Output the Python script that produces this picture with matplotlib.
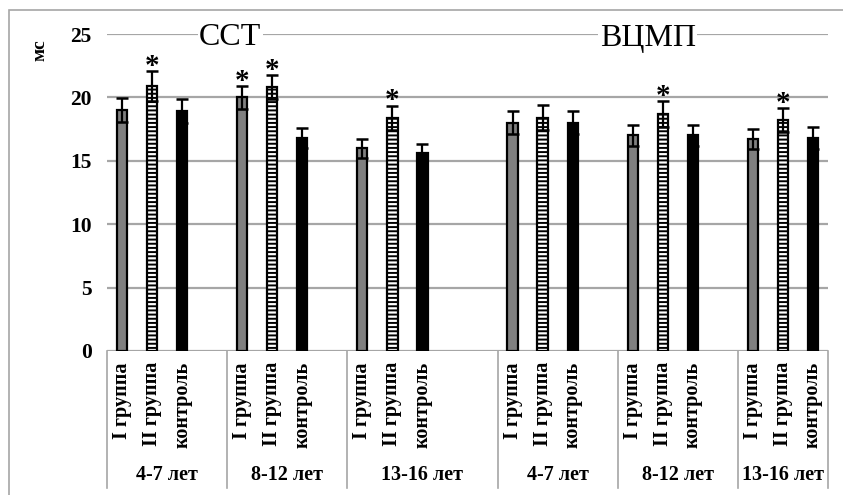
import matplotlib
matplotlib.use("Agg")
import matplotlib.pyplot as plt
import matplotlib.transforms as mtransforms
from matplotlib.patches import Rectangle
import numpy as np

plt.rcParams['font.family'] = ['Liberation Serif', 'DejaVu Serif']
plt.rcParams['hatch.linewidth'] = 1.4

panels = ["ССТ", "ВЦМП"]
ages = ["4-7 лет", "8-12 лет", "13-16 лет"]
groups = ["I группа", "II группа", "контроль"]

# values (мс), per age group
sst_i = [19.0, 20.0, 16.0]
sst_ii = [20.9, 20.8, 18.4]
sst_k = [18.9, 16.8, 15.6]
vcmp_i = [18.0, 17.0, 16.7]
vcmp_ii = [18.4, 18.7, 18.2]
vcmp_k = [18.0, 17.0, 16.8]

sst_i_err = [0.95, 0.9, 0.75]
sst_ii_err = [1.2, 0.95, 0.95]
sst_k_err = [0.95, 0.8, 0.7]
vcmp_i_err = [0.9, 0.85, 0.8]
vcmp_ii_err = [1.0, 1.0, 0.95]
vcmp_k_err = [0.9, 0.85, 0.85]

# significance marks
sst_i_star = [0, 1, 0]
sst_ii_star = [1, 1, 1]
sst_k_star = [0, 0, 0]
vcmp_i_star = [0, 0, 0]
vcmp_ii_star = [0, 1, 1]
vcmp_k_star = [0, 0, 0]

yticks = [0, 5, 10, 15, 20, 25]

# slots per age block on the category axis (excel-like spacing)
block_slots = [4, 4, 5, 4, 4, 3]

vals = [[sst_i, sst_ii, sst_k], [vcmp_i, vcmp_ii, vcmp_k]]
errs = [[sst_i_err, sst_ii_err, sst_k_err], [vcmp_i_err, vcmp_ii_err, vcmp_k_err]]
stars = [[sst_i_star, sst_ii_star, sst_k_star], [vcmp_i_star, vcmp_ii_star, vcmp_k_star]]

styles = [dict(color="#808080", edgecolor="black", hatch=None),
          dict(color="white", edgecolor="black", hatch="----"),
          dict(color="black", edgecolor="black", hatch=None)]

fig = plt.figure(figsize=(8.43, 4.95), dpi=100)
ax = fig.add_axes([107/843, 144/495, 721/843, 317/495])

starts = np.concatenate([[0], np.cumsum(block_slots)[:-1]])
bounds = np.concatenate([[0], np.cumsum(block_slots)]) - 0.5

for p in range(len(panels)):
    for g in range(len(groups)):
        x = starts[p*3:(p+1)*3] + g
        y = np.array(vals[p][g])
        e = np.array(errs[p][g])
        st = styles[g]
        ax.bar(x, y, width=0.34, color=st["color"], edgecolor=st["edgecolor"],
               hatch=st["hatch"], linewidth=1.6, zorder=3)
        ax.errorbar(x, y, yerr=e, fmt="none", ecolor="black", elinewidth=1.6,
                    capsize=4, capthick=1.8, zorder=4)
        for xi, yi, ei, s in zip(x, y, e, stars[p][g]):
            if s:
                ax.annotate("*", (xi, yi + ei), xytext=(0, -2), textcoords="offset points",
                            ha="center", va="baseline", fontsize=21, fontweight="bold",
                            zorder=5)

# category labels
xt = []
xl = []
for b in range(len(starts)):
    for g in range(len(groups)):
        xt.append(starts[b] + g)
        xl.append(groups[g])
ax.set_xticks(xt)
ax.set_xticklabels(xl, rotation=90, fontsize=14.5, fontweight="bold")
ax.tick_params(axis="x", length=0, pad=8)

trans = mtransforms.blended_transform_factory(ax.transData, ax.transAxes)
for bd in bounds:
    ax.plot([bd, bd], [0, -0.432], transform=trans, color="#a6a6a6", lw=1.2, clip_on=False)
for b in range(len(starts)):
    ax.text((bounds[b] + bounds[b+1]) / 2, -0.392, ages[b % 3], transform=trans,
            ha="center", va="center", fontsize=14.5, fontweight="bold")

ax.set_xlim(bounds[0], bounds[-1])
ax.set_ylim(0, 25)
ax.set_yticks(yticks)
ax.set_yticklabels([str(t) for t in yticks], fontsize=15.5, fontweight="bold")
ax.tick_params(axis="y", length=0, pad=11)
ax.yaxis.grid(True, color="#a6a6a6", lw=1.6, zorder=0)
ax.set_axisbelow(True)
for s in ax.spines.values():
    s.set_visible(False)

ax.text(3.6, 24.75, panels[0], ha="center", va="center", fontsize=23,
        bbox=dict(facecolor="white", edgecolor="none", pad=1), zorder=2)
ax.text(17.5, 24.65, panels[1], ha="center", va="center", fontsize=23,
        bbox=dict(facecolor="white", edgecolor="none", pad=1), zorder=2)

fig.text(40/843, 1 - 50/495, "мс", rotation=90, ha="center", va="center",
         fontsize=14, fontweight="bold")

fig.add_artist(Rectangle((9/843, -0.1), 1.2, 1 - 10/495 + 0.1, transform=fig.transFigure,
                         fill=False, edgecolor="#a6a6a6", lw=1.2))

fig.savefig("out.png", dpi=100)
